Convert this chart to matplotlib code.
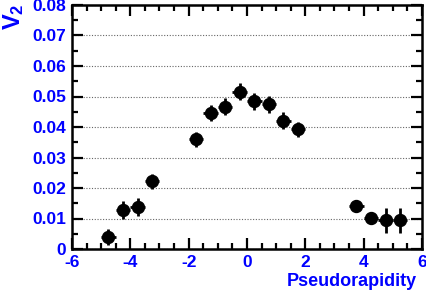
import matplotlib
matplotlib.use("Agg")
import matplotlib.pyplot as plt
from matplotlib.ticker import MultipleLocator

# data
eta = [-4.75, -4.25, -3.75, -3.25, -1.75, -1.25, -0.75, -0.25,
       0.25, 0.75, 1.25, 1.75, 3.75, 4.25, 4.75, 5.25]
v2 = [0.0040, 0.0127, 0.0138, 0.0222, 0.0360, 0.0447, 0.0467, 0.0516,
      0.0485, 0.0474, 0.0421, 0.0392, 0.0142, 0.0101, 0.0094, 0.0094]
v2_err = [0.0027, 0.0030, 0.0029, 0.0025, 0.0025, 0.0026, 0.0027, 0.0029,
          0.0028, 0.0027, 0.0027, 0.0026, 0.0010, 0.0020, 0.0041, 0.0041]
eta_err = [0.25] * len(eta)

blue = "#0000ff"
plt.rcParams["font.family"] = ["Liberation Sans", "DejaVu Sans"]
plt.rcParams["axes.unicode_minus"] = False
plt.rcParams["mathtext.fontset"] = "custom"
plt.rcParams["mathtext.bf"] = "Liberation Sans:bold"
plt.rcParams["mathtext.rm"] = "Liberation Sans:bold"

fig = plt.figure(figsize=(4.27, 2.91), dpi=100, facecolor="white")
ax = fig.add_axes([72 / 427, 42 / 291, 350 / 427, 244 / 291])

ax.errorbar(eta, v2, yerr=v2_err, xerr=eta_err, fmt="o", color="black",
            markersize=8.6, elinewidth=2, capsize=0, zorder=3)

ax.set_xlim(-6, 6)
ax.set_ylim(0, 0.08)
ax.xaxis.set_major_locator(MultipleLocator(2))
ax.xaxis.set_minor_locator(MultipleLocator(0.5))
ax.yaxis.set_major_locator(MultipleLocator(0.01))
ax.yaxis.set_minor_locator(MultipleLocator(0.005))
ax.yaxis.set_major_formatter(
    plt.FuncFormatter(lambda v, p: "0" if abs(v) < 1e-9 else "%.2f" % v))

ax.grid(True, axis="y", which="major", linestyle=(0, (1, 1.5)),
        color="#666666", linewidth=0.8)
ax.set_axisbelow(True)

ax.tick_params(which="both", direction="in", top=True, right=True,
               width=1.6, colors="black", labelcolor=blue, labelsize=12.5)
ax.tick_params(which="major", length=8, pad=4)
ax.tick_params(which="minor", length=4)
for lab in ax.get_xticklabels() + ax.get_yticklabels():
    lab.set_fontweight("bold")
for s in ax.spines.values():
    s.set_linewidth(1.8)

fig.text(417 / 427, 1 - 281 / 291, "Pseudorapidity", color=blue,
         fontsize=13, fontweight="bold", ha="right", va="center")
fig.text(1 / 427, 1 - 3 / 291, r"$\mathbf{V_2}$", color=blue, fontsize=17,
         rotation=90, ha="left", va="top")

fig.savefig("out.png", dpi=100, facecolor="white")
